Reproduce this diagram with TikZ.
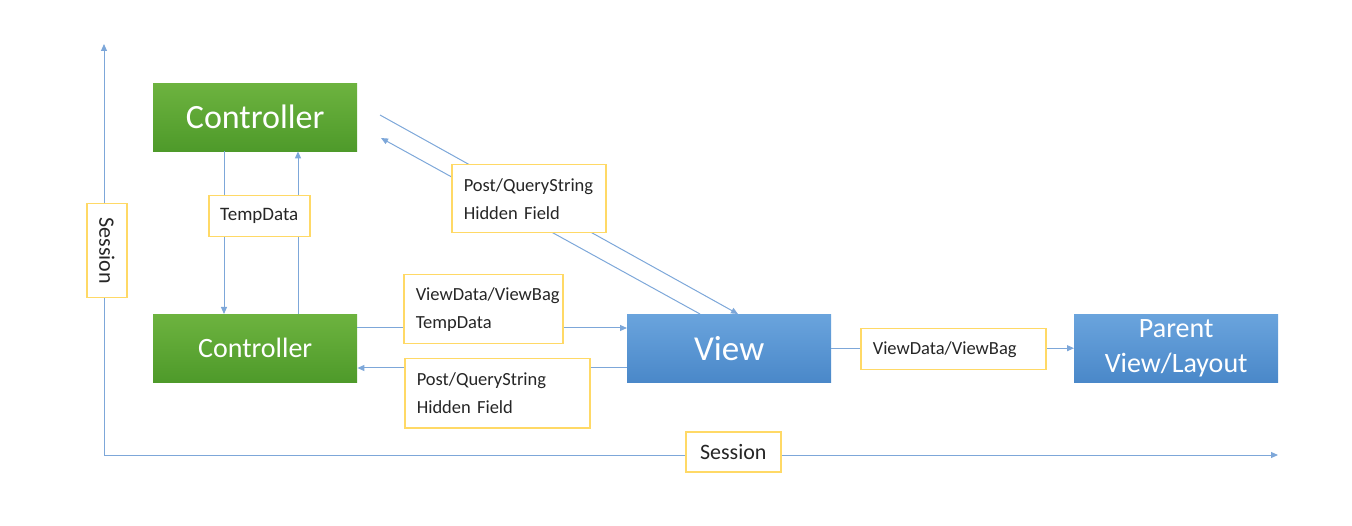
\documentclass[tikz,border=0pt]{standalone}
\usepackage{fontspec}
\setmainfont{Carlito}
\usetikzlibrary{arrows.meta}
\definecolor{lnblue}{HTML}{7DA7D9}
\definecolor{grtop}{HTML}{6DB33F}
\definecolor{grbot}{HTML}{4E9A2A}
\definecolor{bltop}{HTML}{6AA4DD}
\definecolor{blbot}{HTML}{4A88C9}
\definecolor{lblbord}{HTML}{FFD966}
\tikzset{
  conn/.style={draw=lnblue, line width=1pt},
  tip/.style={-{Triangle[length=7pt,width=6pt]}},
  greenbox/.style={draw=none, top color=grtop, bottom color=grbot, text=white, minimum width=204pt, minimum height=68pt, inner sep=0pt, anchor=north west},
  bluebox/.style={draw=none, top color=bltop, bottom color=blbot, text=white, minimum width=204pt, minimum height=68pt, inner sep=0pt, anchor=north west},
  lbl/.style={draw=lblbord, line width=1.5pt, fill=white, inner sep=0pt, anchor=north west, font=\fontsize{18.5}{28}\selectfont, text=black!85},
  lbll/.style={lbl, inner xsep=12pt, align=left},
}
\begin{document}
\begin{tikzpicture}[x=1pt,y=-1pt]
\useasboundingbox (0,0) rectangle (1352,526);
% session axes
\coordinate (orig) at (104,455);
\coordinate (vtop) at (104,44);
\coordinate (hend) at (1278,455);
\draw[conn,tip] (orig) -- (vtop);
\draw[conn,tip] (orig) -- (hend);
% boxes
\node[greenbox, font=\fontsize{34}{40}\selectfont] (c1) at (153,83) {Controller};
\node[greenbox, font=\fontsize{28}{32}\selectfont] (c2) at (153,314) {Controller};
\node[bluebox, font=\fontsize{35}{40}\selectfont] (v) at (627,314) {View};
\node[bluebox, font=\fontsize{28}{35}\selectfont, align=center] (p) at (1074,314) {Parent\\[0pt]View/Layout};
% connectors controller-controller
\coordinate (a1) at (224,151);
\coordinate (a2) at (298,314);
\draw[conn,tip] (a1) -- (a1 |- c2.north);
\draw[conn,tip] (a2) -- (a2 |- c1.south);
% diagonal
\coordinate (d1s) at (380,115);
\coordinate (d1e) at (738,314);
\coordinate (d2s) at (700,314);
\coordinate (d2e) at (381,138);
\draw[conn,tip] (d1s) -- (d1e);
\draw[conn,tip] (d2s) -- (d2e);
% horizontal between controller and view
\coordinate (h1) at (357,328);
\coordinate (h2) at (627,368);
\draw[conn,tip] (h1) -- (h1 -| v.west);
\draw[conn,tip] (h2) -- (h2 -| c2.east);
\draw[conn,tip] (v.east) -- (p.west);
% labels
\node[lbl, minimum width=40pt, minimum height=94pt] (sv) at (86,203) {};
\node[rotate=-90, font=\fontsize{22}{24}\selectfont, text=black!85] (svt) at (sv.center) {Session};
\node[lbl, minimum width=95pt, minimum height=40pt, font=\fontsize{22}{24}\selectfont] (sh) at (685,431) {Session};
\node[lbl, minimum width=101pt, minimum height=41pt, font=\fontsize{19}{24}\selectfont] (td) at (208,195) {TempData};
\node[lbll, minimum width=154pt, minimum height=68pt, text width=130pt] (pq1) at (451,164) {Post/QueryString\\Hidden Field};
\node[lbll, minimum width=159pt, minimum height=69pt, text width=135pt] (vd1) at (403,274) {ViewData/ViewBag\\TempData};
\node[lbll, minimum width=185pt, minimum height=69pt, text width=161pt] (pq2) at (404,358) {Post/QueryString\\Hidden Field};
\node[lbll, minimum width=185pt, minimum height=41pt, text width=161pt] (vd2) at (860,328) {ViewData/ViewBag};
\end{tikzpicture}
\end{document}
